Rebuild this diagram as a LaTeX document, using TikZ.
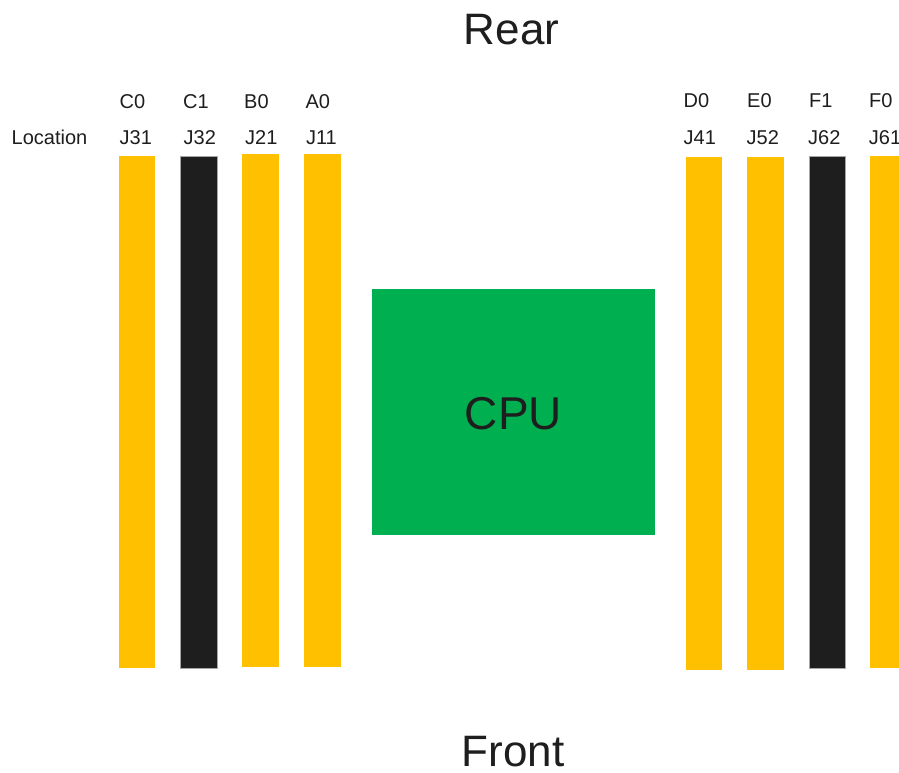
\documentclass[tikz,border=0pt]{standalone}
\usepackage{fontspec}
\setmainfont{Liberation Sans}
\definecolor{dimmyellow}{HTML}{FFC000}
\definecolor{dimmblack}{HTML}{1E1E1E}
\definecolor{cpugreen}{HTML}{00B050}
\definecolor{txt}{HTML}{1E1E1E}
\begin{document}
\begin{tikzpicture}[x=1pt,y=-1pt,
  lbl/.style={anchor=base west,inner sep=0pt,text=txt,font=\fontsize{20}{22}\selectfont},
  big/.style={anchor=base,inner sep=0pt,text=txt,text depth=0pt},
  ydimm/.style={fill=dimmyellow},
  kdimm/.style={fill=dimmblack,draw=gray!70,line width=0.6pt}]
\useasboundingbox (0,0) rectangle (899,773);
\fill[white] (0,0) rectangle (899,773);
% left bank
\path[ydimm] (119,156) rectangle (155.3,668.3);
\path[kdimm] (180.3,156) rectangle (217.7,668);
\path[ydimm] (242.3,154) rectangle (278.8,666.7);
\path[ydimm] (303.7,154) rectangle (340.7,666.7);
% right bank
\path[ydimm] (686,157.3) rectangle (722.3,670);
\path[ydimm] (747.3,157.3) rectangle (784.3,670);
\path[kdimm] (809.3,156) rectangle (845.7,668.3);
\path[ydimm] (870.3,155.7) rectangle (899,668.3);
% CPU
\fill[cpugreen] (371.7,289.3) rectangle (655.3,535.3);
\node[anchor=center,inner sep=0pt,text=txt,font=\fontsize{46}{50}\selectfont] (cpu) at (513.5,413.3) {CPU};
% titles
\node[big,font=\fontsize{44}{48}\selectfont] (rear) at (511.5,44.3) {Rear};
\node[big,font=\fontsize{44}{48}\selectfont] (front) at (512.9,766.7) {Front};
% labels
\node[lbl] (loc) at (11.5,144) {Location};
\node[lbl] (c0) at (119.5,108.3) {C0};
\node[lbl] (c1) at (183,108.3) {C1};
\node[lbl] (b0) at (244,108.3) {B0};
\node[lbl] (a0) at (305.3,108.3) {A0};
\node[lbl] (j31) at (119.5,144) {J31};
\node[lbl] (j32) at (183.5,144) {J32};
\node[lbl] (j21) at (245,144) {J21};
\node[lbl] (j11) at (305.8,144) {J11};
\node[lbl] (d0) at (683.5,107.5) {D0};
\node[lbl] (e0) at (747,107.5) {E0};
\node[lbl] (f1) at (809,107.5) {F1};
\node[lbl] (f0) at (869,107.5) {F0};
\node[lbl] (j41) at (683.5,144) {J41};
\node[lbl] (j52) at (746.5,144) {J52};
\node[lbl] (j62) at (808,144) {J62};
\node[lbl] (j61) at (868.7,144) {J61};
\end{tikzpicture}
\end{document}
